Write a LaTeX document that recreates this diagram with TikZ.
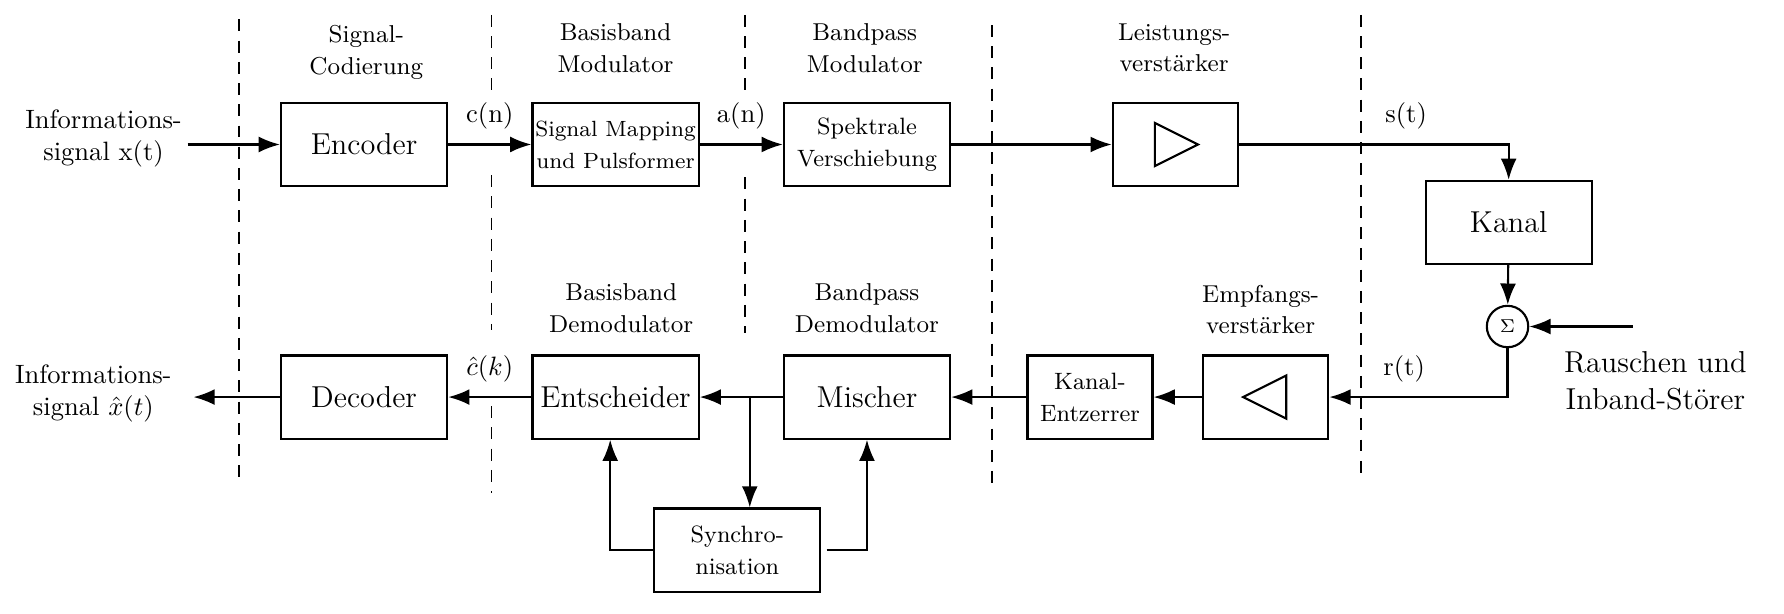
\documentclass[tikz,border=0pt]{standalone}
\usetikzlibrary{arrows.meta}
\tikzset{
  block/.style={draw,thick,minimum width=62.6pt,minimum height=31.3pt,inner sep=1pt,align=center},
  ampblock/.style={block,minimum width=47.1pt},
  bigtext/.style={font=\fontsize{11.4}{14}\selectfont},
  smalltext/.style={font=\fontsize{8.9}{12}\selectfont},
  arr/.style={thick,-{Latex[length=8pt,width=6pt]}},
  sep/.style={semithick,dash pattern=on 4.5pt off 3.5pt},
  lbl/.style={align=center,font=\fontsize{9.2}{12}\selectfont},
}
\begin{document}
\begin{tikzpicture}[x=0.4286pt,y=-0.4286pt]
\useasboundingbox (0,0) rectangle (1568,539);
% Trennlinien
\foreach \x/\a/\b in {210/17/427, 432/13/83, 432/154/290, 432/357/433, 655/13/82, 655/156/293, 872/22/432, 1196/13/423}
  \draw[sep] (\x,\a) -- (\x,\b);
% Beschriftungen
\node[lbl] (l_enc) at (322,46) {Signal-\\Codierung};
\node[lbl] (l_bbmod) at (541,42) {Basisband\\Modulator};
\node[lbl] (l_bpmod) at (760,42) {Bandpass\\Modulator};
\node[lbl] (l_pa) at (1032,42) {Leistungs-\\verst\"arker};
\node[lbl] (l_bbdem) at (546,271) {Basisband\\Demodulator};
\node[lbl] (l_bpdem) at (762,271) {Bandpass\\Demodulator};
\node[lbl] (l_ra) at (1108,272) {Empfangs-\\verst\"arker};
% Sender
\node[align=center] (xin) at (91,122) {Informations-\\signal x(t)};
\coordinate (xs) at (165,127);
\node[block,bigtext] (enc) at (320,127) {Encoder};
\node[block,font=\fontsize{8.3}{12}\selectfont] (map) at (541,127) {Signal Mapping\\und Pulsformer};
\node[block,smalltext] (shift) at (762,127) {Spektrale\\Verschiebung};
\node[ampblock] (pa) at (1033,127) {};
\draw[thick] (pa.center) ++(-18,-19) -- ++(38,19) -- ++(-38,19) -- cycle;
% Kanal
\node[block,bigtext] (kanal) at (1326,195.5) {Kanal};
\node[draw,thick,circle,minimum size=15.6pt,inner sep=0pt,font=\scriptsize] (sum) at (1325,287) {$\Sigma$};
\node[align=center,bigtext] (noise) at (1455,335) {Rauschen und\\Inband-St\"orer};
\coordinate (nin) at (1435,287);
% Empfaenger
\node[ampblock] (ra) at (1112.5,349) {};
\draw[thick] (ra.center) ++(18,-19) -- ++(-38,19) -- ++(38,19) -- cycle;
\node[ampblock,smalltext] (eq) at (958,349) {Kanal-\\Entzerrer};
\node[block,bigtext] (mix) at (762,349) {Mischer};
\node[block,bigtext] (ent) at (541,349) {Entscheider};
\node[block,bigtext] (dec) at (320,349) {Decoder};
\node[align=center] (xout) at (82,346) {Informations-\\signal $\hat{x}(t)$};
\coordinate (xo) at (170,349);
\node[block,smalltext] (sync) at (648,483.5) {Synchro-\\nisation};
\coordinate (br) at (659,349);
% Verbindungen
\draw[arr] (xs) -- (xs -| enc.west);
\draw[arr] (enc) -- node[above=2pt]{c(n)} (map);
\draw[arr] (map) -- node[above=2pt]{a(n)} (shift);
\draw[arr] (shift) -- (pa);
\draw[arr] (pa) -| node[pos=0.31,above=2pt]{s(t)} (kanal);
\draw[arr] (kanal) -- (sum);
\draw[arr] (nin) -- (sum);
\draw[arr] (sum) |- node[pos=0.79,above=2pt]{r(t)} (ra);
\draw[arr] (ra) -- (eq);
\draw[arr] (eq) -- (mix);
\draw[arr] (mix) -- (ent);
\draw[arr] (br) -- (br |- sync.north);
\draw[arr] (ent) -- node[above=2pt]{$\hat{c}(k)$} (dec);
\draw[arr] (dec) -- (xo);
\draw[arr] (sync.west) -| ([xshift=-2pt]ent.south);
\draw[arr] ([xshift=2pt]sync.east) -| (mix.south);
\end{tikzpicture}
\end{document}
